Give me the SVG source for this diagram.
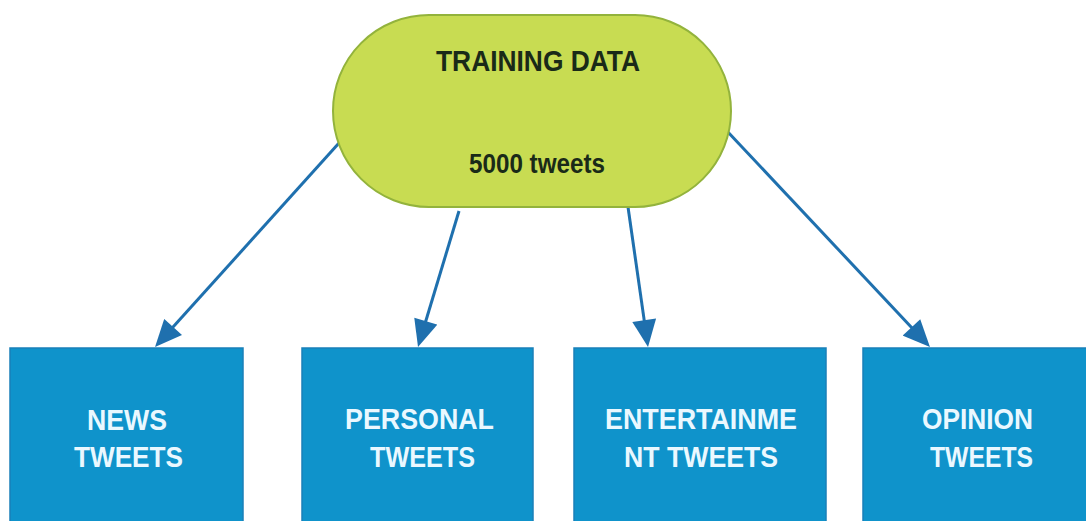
<svg xmlns="http://www.w3.org/2000/svg" width="1086" height="521" viewBox="0 0 1086 521">
  <defs>
    <style>
      .conn { stroke: #1F70AE; stroke-width: 3; fill: none; marker-end: url(#arrow); }
      .pill { fill: #C8DC52; stroke: #93B33C; stroke-width: 2; }
      .box { fill: #0F93CB; stroke: #1A80B9; stroke-width: 1.5; }
      .title { font-family: "Liberation Sans", Arial, sans-serif; font-weight: bold; fill: #1A2A18; text-anchor: middle; }
      .label { font-family: "Liberation Sans", Arial, sans-serif; font-weight: bold; font-size: 30px; fill: #EAF8FF; text-anchor: middle; }
    </style>
    <marker id="arrow" markerUnits="userSpaceOnUse" markerWidth="28" markerHeight="24" viewBox="0 0 27 24" refX="19" refY="12" orient="auto">
      <path d="M0,0 L27,12 L0,24 z" fill="#1F70AE"/>
    </marker>
  </defs>
  <rect width="1086" height="521" fill="#FFFFFF"/>

  <!-- connectors from the training data node to each category -->
  <g id="connectors">
    <line class="conn" x1="339" y1="143" x2="160.4" y2="341.1"/>
    <line class="conn" x1="459" y1="211" x2="420.3" y2="339.3"/>
    <line class="conn" x1="627" y1="200" x2="646.9" y2="339.1"/>
    <line class="conn" x1="726" y1="130" x2="924.5" y2="341.2"/>
  </g>

  <g id="training-data">
    <rect class="pill" x="333" y="15" width="398" height="192" rx="96" ry="96"/>
    <text class="title" x="538" y="71" font-size="30" textLength="204" lengthAdjust="spacingAndGlyphs">TRAINING DATA</text>
    <text class="title" x="537" y="173" font-size="27" textLength="136" lengthAdjust="spacingAndGlyphs">5000 tweets</text>
  </g>

  <g id="news-tweets">
    <rect class="box" x="10" y="348" width="233" height="190"/>
    <text class="label" x="127" y="430" textLength="80" lengthAdjust="spacingAndGlyphs">NEWS</text>
    <text class="label" x="128.5" y="467" textLength="109" lengthAdjust="spacingAndGlyphs">TWEETS</text>
  </g>

  <g id="personal-tweets">
    <rect class="box" x="302" y="348" width="231" height="190"/>
    <text class="label" x="419.5" y="429" textLength="149" lengthAdjust="spacingAndGlyphs">PERSONAL</text>
    <text class="label" x="422.5" y="467" textLength="105" lengthAdjust="spacingAndGlyphs">TWEETS</text>
  </g>

  <g id="entertainment-tweets">
    <rect class="box" x="574" y="348" width="252" height="190"/>
    <text class="label" x="701" y="429" textLength="192" lengthAdjust="spacingAndGlyphs">ENTERTAINME</text>
    <text class="label" x="701" y="467" textLength="154" lengthAdjust="spacingAndGlyphs">NT TWEETS</text>
  </g>

  <g id="opinion-tweets">
    <rect class="box" x="863" y="348" width="240" height="190"/>
    <text class="label" x="977.5" y="429" textLength="111" lengthAdjust="spacingAndGlyphs">OPINION</text>
    <text class="label" x="981.5" y="467" textLength="103" lengthAdjust="spacingAndGlyphs">TWEETS</text>
  </g>
</svg>
